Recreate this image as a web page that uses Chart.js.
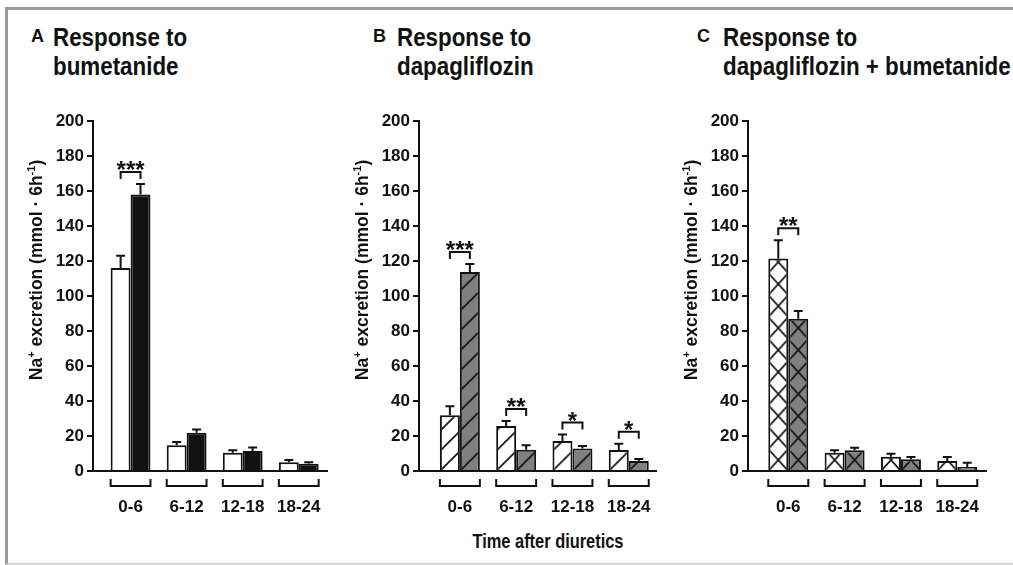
<!DOCTYPE html>
<html><head><meta charset="utf-8">
<script src="https://cdn.jsdelivr.net/npm/chart.js@4.4.1/dist/chart.umd.min.js"></script>
<style>
html,body{margin:0;padding:0;background:#fff;width:1013px;height:565px;overflow:hidden;position:relative;}
#frame{position:absolute;left:5px;top:7px;width:1040px;height:558px;box-sizing:border-box;border-left:3px solid #9a9a9a;border-top:3px solid #9a9a9a;border-bottom:2px solid #d6d6d6;}
canvas{position:absolute;}
.letter{position:absolute;font:bold 18px 'Liberation Sans',Arial,sans-serif;line-height:18px;color:#111;}
.title{position:absolute;font:bold 26px 'Liberation Sans',Arial,sans-serif;line-height:29px;color:#111;white-space:nowrap;transform:scaleX(0.86);transform-origin:0 0;}
#xtitle{position:absolute;left:398px;top:531px;width:300px;text-align:center;font:bold 20px 'Liberation Sans',Arial,sans-serif;line-height:20px;color:#111;transform:scaleX(0.82);transform-origin:50% 0;}
</style></head><body>
<div id="frame"></div>
<div class="letter" style="left:31px;top:27px">A</div>
<div class="title" style="left:53px;top:23px">Response to<br>bumetanide</div>
<div class="letter" style="left:373px;top:27px">B</div>
<div class="title" style="left:397px;top:23px">Response to<br>dapagliflozin</div>
<div class="letter" style="left:697px;top:27px">C</div>
<div class="title" style="left:723px;top:23px">Response to<br>dapagliflozin + bumetanide</div>
<div id="xtitle">Time after diuretics</div>
<canvas id="cA" width="330" height="430" style="left:10px;top:100px;width:330px;height:430px"></canvas>
<canvas id="cB" width="325" height="430" style="left:345px;top:100px;width:325px;height:430px"></canvas>
<canvas id="cC" width="333" height="430" style="left:680px;top:100px;width:333px;height:430px"></canvas>
<script>
// ---- data ----
const CATEGORIES = ['0-6', '6-12', '12-18', '18-24'];
const Y_TICKS = [0, 20, 40, 60, 80, 100, 120, 140, 160, 180, 200];

const bumControlMean = [116, 14.7, 10.5, 5.0];
const bumControlSem  = [7.0, 1.9, 1.3, 1.3];
const bumTreatMean   = [158, 21.8, 11.5, 4.2];
const bumTreatSem    = [6.0, 1.9, 2.0, 0.8];
const bumSig         = ['***', '', '', ''];

const dapaControlMean = [31.8, 25.7, 17.1, 12.0];
const dapaControlSem  = [5.2, 2.9, 3.7, 3.6];
const dapaTreatMean   = [113.7, 12.2, 12.8, 5.7];
const dapaTreatSem    = [4.6, 2.5, 1.5, 1.2];
const dapaSig         = ['***', '**', '*', '*'];

const comboControlMean = [121.5, 10.5, 8.2, 5.7];
const comboControlSem  = [10.3, 1.3, 1.7, 2.3];
const comboTreatMean   = [87.0, 11.8, 6.7, 2.3];
const comboTreatSem    = [4.4, 1.5, 1.3, 2.4];
const comboSig         = ['**', '', '', ''];

// ---- styling ----
const INK = '#111';
const GRAY = '#808080';
const REG = "'Liberation Sans',Arial,sans-serif";
const CAT_PCT = 0.71;

function makeTile(kind, fill, w, h) {
  const c = document.createElement('canvas');
  c.width = w; c.height = h;
  const g = c.getContext('2d');
  g.fillStyle = fill; g.fillRect(0, 0, w, h);
  g.strokeStyle = INK; g.lineWidth = 1.7;
  for (const k of [-1, 0, 1]) {
    g.beginPath(); g.moveTo(k * w, h); g.lineTo(k * w + w, 0); g.stroke();
    if (kind === 'cross') {
      g.beginPath(); g.moveTo(k * w, 0); g.lineTo(k * w + w, h); g.stroke();
    }
  }
  return c;
}

function fillFor(kind, color, dsIndex) {
  if (kind === 'solid') return color;
  return (ctx) => {
    if (ctx.type !== 'data') return color;
    const ch = ctx.chart, xs = ch.scales.x, ys = ch.scales.y;
    if (!xs || !ys) return color;
    const unit = xs.getPixelForValue(1) - xs.getPixelForValue(0);
    const base = ys.getPixelForValue(0);
    if (!isFinite(unit) || unit <= 0 || !isFinite(base)) return color;
    const bw = unit * CAT_PCT / 2;
    const left = xs.getPixelForValue(ctx.dataIndex) - unit * CAT_PCT / 2 + dsIndex * bw;
    const tw = kind === 'cross' ? Math.max(4, Math.round(bw)) : 20;
    const th = kind === 'cross' ? 22 : 20;
    const p = ch.ctx.createPattern(makeTile(kind, color, tw, th), 'repeat');
    p.setTransform(new DOMMatrix([1, 0, 0, 1, left, base]));
    return p;
  };
}

function drawYTitle(ctx, cx, cy) {
  const F = 17.5;
  const fN = `bold ${F}px ${REG}`, fS = `bold ${Math.round(F * 0.62)}px ${REG}`;
  const parts = [['Na', 0], ['+', 1], [' excretion (mmol \u00b7 6h', 0], ['-1', 1], [')', 0]];
  ctx.save();
  ctx.translate(cx, cy); ctx.rotate(-Math.PI / 2);
  let total = 0;
  const ws = parts.map(([t, s]) => { ctx.font = s ? fS : fN; const w = ctx.measureText(t).width; total += w; return w; });
  let x = -total / 2;
  const base = F * 0.36;
  ctx.fillStyle = INK; ctx.textBaseline = 'alphabetic'; ctx.textAlign = 'left';
  parts.forEach(([t, s], i) => {
    ctx.font = s ? fS : fN;
    ctx.fillText(t, x, s ? base - F * 0.42 : base);
    x += ws[i];
  });
  ctx.restore();
}

function makePanel(cfg) {
  const decor = {
    id: 'decor',
    afterDatasetsDraw(chart) {
      const ctx = chart.ctx, ys = chart.scales.y;
      const metas = [chart.getDatasetMeta(0), chart.getDatasetMeta(1)];
      const means = [cfg.m1, cfg.m2], sems = [cfg.s1, cfg.s2];
      ctx.save();
      ctx.strokeStyle = INK; ctx.lineWidth = 2; ctx.lineCap = 'butt';
      metas.forEach((meta, d) => {
        meta.data.forEach((el, i) => {
          const yTop = ys.getPixelForValue(means[d][i] + sems[d][i]);
          ctx.beginPath();
          ctx.moveTo(el.x, el.y); ctx.lineTo(el.x, yTop);
          ctx.moveTo(el.x - 4.5, yTop); ctx.lineTo(el.x + 4.5, yTop);
          ctx.stroke();
        });
      });
      cfg.sig.forEach((s, i) => {
        if (!s) return;
        const t = Math.min(ys.getPixelForValue(means[0][i] + sems[0][i]), ys.getPixelForValue(means[1][i] + sems[1][i]));
        const bottom = t - 5, top = bottom - 7;
        const x1 = metas[0].data[i].x, x2 = metas[1].data[i].x;
        ctx.beginPath();
        ctx.moveTo(x1, bottom); ctx.lineTo(x1, top); ctx.lineTo(x2, top); ctx.lineTo(x2, bottom);
        ctx.stroke();
        ctx.fillStyle = INK; ctx.font = `bold 24px ${REG}`;
        ctx.textAlign = 'center'; ctx.textBaseline = 'alphabetic';
        ctx.fillText(s, (x1 + x2) / 2, top + 6);
      });
      const yb = chart.chartArea.bottom;
      CATEGORIES.forEach((c, i) => {
        const a = metas[0].data[i], b = metas[1].data[i];
        const l = a.x - a.width / 2, r = b.x + b.width / 2;
        ctx.beginPath();
        ctx.moveTo(l, yb + 8); ctx.lineTo(l, yb + 15); ctx.lineTo(r, yb + 15); ctx.lineTo(r, yb + 8);
        ctx.stroke();
      });
      ctx.restore();
      drawYTitle(ctx, chart.chartArea.left - 57, chart.chartArea.top + 149);
    }
  };
  const mk = (arr) => CATEGORIES.map((c, i) => ({ x: i, y: arr[i] }));
  return new Chart(document.getElementById(cfg.id), {
    type: 'bar',
    data: {
      datasets: [
        { data: mk(cfg.m1), backgroundColor: fillFor(cfg.kind, '#ffffff', 0), borderColor: INK, borderWidth: 2,
          borderSkipped: 'start', categoryPercentage: CAT_PCT, barPercentage: 1 },
        { data: mk(cfg.m2), backgroundColor: fillFor(cfg.kind, cfg.dark, 1), borderColor: INK, borderWidth: 2,
          borderSkipped: 'start', categoryPercentage: CAT_PCT, barPercentage: 1 }
      ]
    },
    options: {
      responsive: false, animation: false, events: [],
      layout: { padding: { left: 0, right: cfg.padR, top: 21, bottom: 0 } },
      plugins: { legend: { display: false }, tooltip: { enabled: false } },
      scales: {
        x: {
          type: 'linear', min: cfg.xMin, max: cfg.xMax, offset: false, z: 1,
          afterBuildTicks: (s) => { s.ticks = CATEGORIES.map((c, i) => ({ value: i })); },
          afterFit: (s) => { s.height = 59; },
          grid: { display: false },
          border: { display: true, color: INK, width: 2 },
          ticks: { autoSkip: false, maxRotation: 0, padding: 18, color: INK,
                   font: { family: REG, size: 17, weight: 'bold' },
                   callback: (v) => CATEGORIES[v] ?? '' }
        },
        y: {
          min: 0, max: 200,
          afterBuildTicks: (s) => { s.ticks = Y_TICKS.map(v => ({ value: v })); },
          afterFit: (s) => { s.width = cfg.yW; },
          grid: { drawOnChartArea: false, drawTicks: true, tickLength: 6, color: INK, lineWidth: 2 },
          border: { display: true, color: INK, width: 2 },
          ticks: { padding: 3, color: INK, font: { family: REG, size: 17, weight: 'bold' } }
        }
      }
    },
    plugins: [decor]
  });
}

makePanel({ id: 'cA', kind: 'solid', dark: INK, m1: bumControlMean, s1: bumControlSem, m2: bumTreatMean, s2: bumTreatSem,
  sig: bumSig, xMin: -0.67, xMax: 3.52, yW: 83, padR: 12 });
makePanel({ id: 'cB', kind: 'diag', dark: GRAY, m1: dapaControlMean, s1: dapaControlSem, m2: dapaTreatMean, s2: dapaTreatSem,
  sig: dapaSig, xMin: -0.726, xMax: 3.487, yW: 74, padR: 13 });
makePanel({ id: 'cC', kind: 'cross', dark: GRAY, m1: comboControlMean, s1: comboControlSem, m2: comboTreatMean, s2: comboTreatSem,
  sig: comboSig, xMin: -0.715, xMax: 3.51, yW: 68, padR: 27 });
</script>
</body></html>
